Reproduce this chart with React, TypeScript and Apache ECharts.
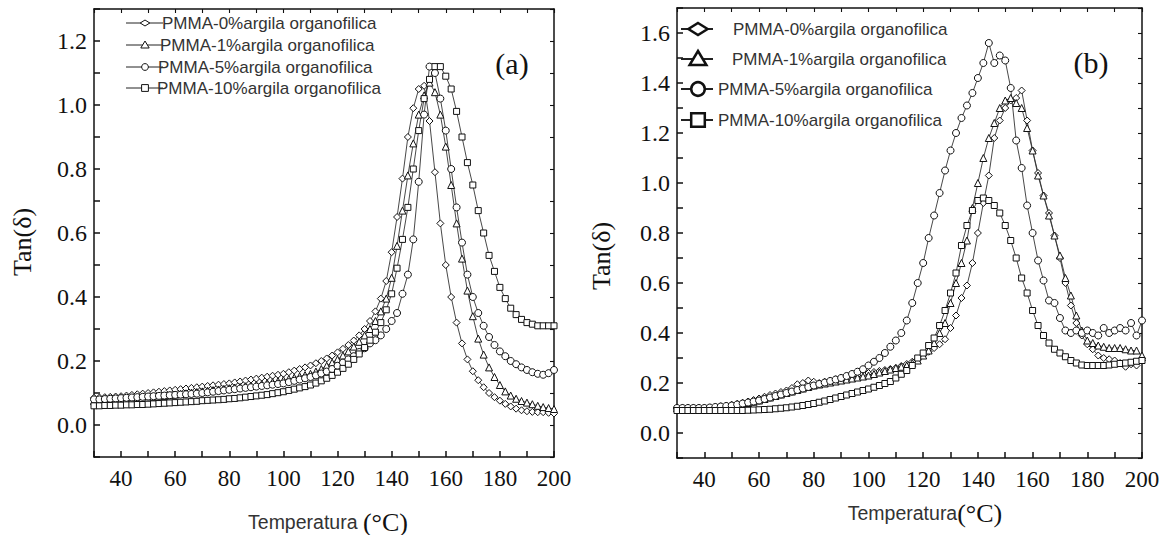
import React, { useEffect, useRef } from "react";
import * as echarts from "echarts";

// Temperature (°C) sampling shared by all curves
const TEMPS = [
  30, 32, 34, 36, 38, 40, 42, 44, 46, 48,
  50, 52, 54, 56, 58, 60, 62, 64, 66, 68,
  70, 72, 74, 76, 78, 80, 82, 84, 86, 88,
  90, 92, 94, 96, 98, 100, 102, 104, 106, 108,
  110, 112, 114, 116, 118, 120, 122, 124, 126, 128,
  130, 132, 134, 136, 138, 140, 142, 144, 146, 148,
  150, 152, 154, 156, 158, 160, 162, 164, 166, 168,
  170, 172, 174, 176, 178, 180, 182, 184, 186, 188,
  190, 192, 194, 196, 198, 200,
];

const SERIES_NAMES = [
  "PMMA-0%argila organofilica",
  "PMMA-1%argila organofilica",
  "PMMA-5%argila organofilica",
  "PMMA-10%argila organofilica",
];

// Panel (a)
const A_0 = [
  0.085, 0.086, 0.087, 0.088, 0.089, 0.09, 0.092, 0.094, 0.096, 0.098,
  0.1, 0.102, 0.104, 0.106, 0.108, 0.11, 0.112, 0.114, 0.116, 0.118,
  0.12, 0.122, 0.124, 0.126, 0.128, 0.13, 0.133, 0.136, 0.139, 0.142,
  0.145, 0.148, 0.151, 0.154, 0.157, 0.16, 0.165, 0.17, 0.175, 0.18,
  0.186, 0.193, 0.2, 0.208, 0.217, 0.227, 0.238, 0.25, 0.264, 0.28,
  0.3, 0.325, 0.355, 0.395, 0.45, 0.54, 0.65, 0.77, 0.9, 0.99,
  1.05, 1.06, 0.95, 0.79, 0.63, 0.5, 0.4, 0.32, 0.255, 0.205,
  0.168, 0.14, 0.118, 0.1, 0.087, 0.076, 0.066, 0.058, 0.051, 0.046,
  0.043, 0.041, 0.04, 0.04, 0.038, 0.036,
];
const A_1 = [
  0.075, 0.076, 0.077, 0.078, 0.079, 0.08, 0.081, 0.082, 0.083, 0.084,
  0.085, 0.087, 0.089, 0.091, 0.093, 0.095, 0.097, 0.099, 0.101, 0.103,
  0.105, 0.107, 0.109, 0.111, 0.113, 0.115, 0.117, 0.119, 0.121, 0.123,
  0.125, 0.128, 0.131, 0.134, 0.137, 0.14, 0.144, 0.148, 0.152, 0.156,
  0.16, 0.167, 0.175, 0.185, 0.195, 0.205, 0.217, 0.23, 0.245, 0.26,
  0.28, 0.3, 0.325, 0.355, 0.395, 0.46, 0.56, 0.67, 0.78, 0.88,
  0.97, 1.03, 1.07, 1.04, 0.97, 0.87, 0.75, 0.63, 0.52, 0.42,
  0.34, 0.27, 0.22, 0.18, 0.15, 0.125, 0.105, 0.092, 0.082, 0.075,
  0.07, 0.065, 0.06, 0.056, 0.053, 0.05,
];
const A_5 = [
  0.08, 0.08, 0.081, 0.082, 0.083, 0.084, 0.085, 0.086, 0.087, 0.088,
  0.089, 0.09, 0.091, 0.092, 0.093, 0.094, 0.095, 0.096, 0.097, 0.098,
  0.1, 0.102, 0.104, 0.106, 0.108, 0.11, 0.112, 0.114, 0.116, 0.118,
  0.12, 0.122, 0.124, 0.126, 0.128, 0.13, 0.134, 0.138, 0.142, 0.146,
  0.15, 0.155, 0.161, 0.167, 0.175, 0.185, 0.195, 0.205, 0.215, 0.228,
  0.24, 0.255, 0.265, 0.28, 0.3, 0.325, 0.35, 0.41, 0.47, 0.58,
  0.76, 0.97, 1.12, 1.1, 1.02, 0.92, 0.8, 0.68, 0.57, 0.47,
  0.4, 0.35, 0.31, 0.275, 0.25, 0.23, 0.215, 0.2, 0.19, 0.18,
  0.172, 0.165, 0.16, 0.157, 0.162, 0.172,
];
const A_10 = [
  0.06, 0.06, 0.061, 0.061, 0.062, 0.062, 0.063, 0.063, 0.064, 0.064,
  0.065, 0.066, 0.067, 0.068, 0.069, 0.07, 0.071, 0.072, 0.073, 0.074,
  0.076, 0.077, 0.078, 0.079, 0.08, 0.082, 0.083, 0.085, 0.087, 0.089,
  0.091, 0.093, 0.095, 0.098, 0.101, 0.104, 0.108, 0.112, 0.116, 0.12,
  0.125, 0.131, 0.138, 0.146, 0.155, 0.165, 0.177, 0.19, 0.205, 0.222,
  0.242, 0.265, 0.29, 0.32, 0.36, 0.41, 0.49, 0.58, 0.68, 0.8,
  0.92, 1.02, 1.08, 1.12, 1.12, 1.09, 1.05, 0.98, 0.9, 0.82,
  0.75, 0.67, 0.6, 0.53, 0.48, 0.43, 0.395, 0.365, 0.345, 0.33,
  0.32, 0.315, 0.31, 0.31, 0.31, 0.31,
];

// Panel (b)
const B_0 = [
  0.1, 0.1, 0.1, 0.1, 0.1, 0.1, 0.102, 0.104, 0.107, 0.11,
  0.113, 0.117, 0.121, 0.126, 0.132, 0.138, 0.145, 0.152, 0.158, 0.164,
  0.17, 0.18, 0.195, 0.2, 0.21, 0.205, 0.2, 0.205, 0.21, 0.215,
  0.22, 0.224, 0.228, 0.232, 0.236, 0.24, 0.244, 0.248, 0.252, 0.256,
  0.26, 0.268, 0.276, 0.285, 0.295, 0.31, 0.325, 0.34, 0.355, 0.375,
  0.42, 0.47, 0.54, 0.59, 0.68, 0.8, 0.92, 1.03, 1.18, 1.25,
  1.3, 1.33, 1.34, 1.37, 1.25, 1.13, 1.04, 0.95, 0.88, 0.79,
  0.7, 0.6, 0.51, 0.44, 0.39, 0.355, 0.335, 0.31, 0.3, 0.295,
  0.29, 0.28, 0.265, 0.275, 0.27, 0.29,
];
const B_1 = [
  0.1, 0.1, 0.1, 0.1, 0.1, 0.1, 0.101, 0.102, 0.104, 0.106,
  0.108, 0.112, 0.116, 0.12, 0.125, 0.13, 0.136, 0.142, 0.148, 0.154,
  0.16, 0.166, 0.172, 0.178, 0.184, 0.19, 0.194, 0.198, 0.202, 0.206,
  0.21, 0.214, 0.218, 0.222, 0.226, 0.23, 0.236, 0.242, 0.248, 0.254,
  0.26, 0.265, 0.27, 0.28, 0.29, 0.31, 0.33, 0.36, 0.4, 0.44,
  0.52, 0.6, 0.68, 0.77, 0.9, 1.0, 1.1, 1.18, 1.24, 1.3,
  1.33, 1.34, 1.32, 1.3, 1.22, 1.13, 1.03, 0.95, 0.87, 0.79,
  0.71, 0.62, 0.55, 0.47, 0.41, 0.37, 0.36, 0.35, 0.345, 0.34,
  0.34, 0.34, 0.335, 0.33, 0.33, 0.31,
];
const B_5 = [
  0.1, 0.1, 0.1, 0.1, 0.1, 0.1, 0.102, 0.104, 0.106, 0.108,
  0.11, 0.114, 0.118, 0.122, 0.126, 0.13, 0.136, 0.142, 0.148, 0.154,
  0.16, 0.166, 0.172, 0.178, 0.184, 0.19, 0.196, 0.202, 0.208, 0.214,
  0.22, 0.228, 0.236, 0.245, 0.255, 0.27, 0.285, 0.3, 0.32, 0.345,
  0.37, 0.4, 0.45, 0.52, 0.6, 0.68, 0.78, 0.87, 0.96, 1.05,
  1.13, 1.2, 1.26, 1.31, 1.36, 1.42, 1.48, 1.56, 1.48, 1.51,
  1.49, 1.38, 1.17, 1.06, 0.91, 0.8, 0.69, 0.61, 0.53, 0.52,
  0.46, 0.41, 0.4, 0.41, 0.4, 0.41, 0.4, 0.39, 0.42, 0.4,
  0.41, 0.42, 0.41, 0.44, 0.39, 0.45,
];
const B_10 = [
  0.09, 0.09, 0.09, 0.09, 0.09, 0.09, 0.09, 0.09, 0.09, 0.09,
  0.09, 0.09, 0.09, 0.091, 0.092, 0.093, 0.094, 0.095, 0.097, 0.099,
  0.101, 0.104, 0.107, 0.11, 0.114, 0.118, 0.123, 0.128, 0.134, 0.14,
  0.146, 0.152, 0.158, 0.164, 0.17, 0.176, 0.183, 0.19, 0.198, 0.206,
  0.22, 0.235, 0.25, 0.27, 0.3, 0.32, 0.35, 0.38, 0.43, 0.49,
  0.56, 0.64, 0.75, 0.83, 0.89, 0.93, 0.94, 0.93, 0.91, 0.88,
  0.83, 0.77, 0.7, 0.62, 0.56, 0.49, 0.43, 0.39, 0.36, 0.335,
  0.32, 0.305, 0.29, 0.28, 0.272, 0.27, 0.27, 0.27, 0.27, 0.272,
  0.275, 0.278, 0.28, 0.283, 0.287, 0.29,
];

// Axis settings: ticks every 10 °C / 0.1, labels on every second tick
const X_MIN = 30;
const X_MAX = 200;
const X_TICK_STEP = 10;
const Y_MIN = -0.1;
const Y_MAX_A = 1.3;
const Y_MAX_B = 1.7;
const Y_TICK_STEP = 0.1;

const SYMBOLS = ["diamond", "triangle", "circle", "rect"];
const PANEL_A = [A_0, A_1, A_5, A_10];
const PANEL_B = [B_0, B_1, B_5, B_10];

const SERIF = '"Liberation Serif", "Times New Roman", serif';
const SANS = '"Liberation Sans", Arial, sans-serif';

function marker(kind: string, cx: number, cy: number, s: number, lw: number) {
  const style = { fill: "#fff", stroke: "#111", lineWidth: lw };
  const h = s / 2;
  if (kind === "diamond") {
    return { type: "polygon", z: 100, shape: { points: [[cx, cy - h * 0.75], [cx + h * 1.2, cy], [cx, cy + h * 0.75], [cx - h * 1.2, cy]] }, style };
  }
  if (kind === "triangle") {
    return { type: "polygon", z: 100, shape: { points: [[cx, cy - h], [cx + h * 1.05, cy + h * 0.75], [cx - h * 1.05, cy + h * 0.75]] }, style };
  }
  if (kind === "circle") {
    return { type: "circle", z: 100, shape: { cx, cy, r: h * 0.85 }, style };
  }
  return { type: "rect", z: 100, shape: { x: cx - h * 0.85, y: cy - h * 0.85, width: h * 1.7, height: h * 1.7 }, style };
}

function legendItems(rows: number[], x1: number, x2: number, mx: number, textX: number[], size: number, lw: number, lineW: number) {
  const out: any[] = [];
  rows.forEach((y, i) => {
    out.push({ type: "line", z: 99, shape: { x1, y1: y, x2, y2: y }, style: { stroke: "#222", lineWidth: lineW } });
    out.push(marker(SYMBOLS[i], mx, y, size, lw));
    out.push({
      type: "text", z: 100, x: textX[i], y,
      style: { text: SERIES_NAMES[i], fontSize: 17, fontFamily: SANS, fill: "#333", verticalAlign: "middle", align: "left" },
    });
  });
  return out;
}

export default function App() {
  const ref = useRef<HTMLDivElement>(null);
  useEffect(() => {
    const chart = echarts.init(ref.current!, null, { renderer: "svg" });

    const grids = [
      { left: 94, top: 9, width: 460, height: 448, show: false },
      { left: 677, top: 8, width: 465, height: 450, show: false },
    ];

    const axisLine = { show: true, onZero: false, lineStyle: { color: "#111", width: 1.5 } };

    const xAxis = (gi: number, pos: "bottom" | "top") => ({
      type: "value", gridIndex: gi, min: X_MIN, max: X_MAX, interval: X_TICK_STEP, position: pos,
      axisLine,
      axisTick: { show: true, inside: true, length: pos === "bottom" ? 6 : 4, lineStyle: { color: "#111", width: pos === "bottom" ? 1.5 : 1.1 } },
      axisLabel: {
        show: pos === "bottom", margin: 10, fontSize: 23, fontFamily: SERIF, color: "#111",
        formatter: (v: number) => (Math.round(v) % 20 === 0 ? String(Math.round(v)) : ""),
      },
      splitLine: { show: false },
    });
    const yAxis = (gi: number, max: number, pos: "left" | "right") => ({
      type: "value", gridIndex: gi, min: Y_MIN, max, interval: Y_TICK_STEP, position: pos,
      axisLine,
      axisTick: { show: true, inside: true, length: pos === "left" ? 6 : 4, lineStyle: { color: "#111", width: pos === "left" ? 1.5 : 1.1 } },
      axisLabel: {
        show: pos === "left", margin: 7, fontSize: 24, fontFamily: SERIF, color: "#111",
        formatter: (v: number) => {
          const k = Math.round(v * 10);
          return k >= 0 && k % 2 === 0 ? (k / 10).toFixed(1) : "";
        },
      },
      splitLine: { show: false },
    });

    const series: any[] = [];
    [PANEL_A, PANEL_B].forEach((panel, pi) => {
      panel.forEach((vals, si) => {
        series.push({
          type: "line",
          name: SERIES_NAMES[si],
          xAxisIndex: pi,
          yAxisIndex: pi,
          data: TEMPS.map((t, i) => [t, vals[i]]),
          symbol: SYMBOLS[si],
          symbolSize: si === 3 ? 6 : 7,
          showAllSymbol: true,
          lineStyle: { color: "#333", width: 0.9 },
          itemStyle: { color: "#fff", borderColor: "#111", borderWidth: 1 },
          emphasis: { disabled: true },
        });
      });
    });

    const xName = (x: number, y: number, sep: string) => ({
      type: "text", z: 100, x, y,
      style: {
        text: `{a|Temperatura${sep}}{b|(°C)}`, align: "center", verticalAlign: "middle",
        rich: { a: { fontSize: 19.5, fontFamily: SANS, fill: "#333", color: "#333" }, b: { fontSize: 26, fontFamily: SERIF, fill: "#111", color: "#111" } },
      },
    });

    const graphic: any[] = [
      ...legendItems([23, 45, 67, 88], 126, 163, 145, [162, 160, 158, 157], 8, 1, 1),
      ...legendItems([29, 59, 89, 120], 681, 713, 698, [733, 732, 718, 718], 16, 2.5, 2),
      { type: "text", z: 100, x: 512, y: 63, style: { text: "(a)", fontSize: 30, fontFamily: SERIF, fill: "#111", align: "center", verticalAlign: "middle" } },
      { type: "text", z: 100, x: 1091, y: 62, style: { text: "(b)", fontSize: 30, fontFamily: SERIF, fill: "#111", align: "center", verticalAlign: "middle" } },
      { type: "text", z: 100, x: 22, y: 242, rotation: Math.PI / 2, style: { text: "Tan(δ)", fontSize: 26, fontFamily: SERIF, fill: "#111", align: "center", verticalAlign: "middle" } },
      { type: "text", z: 100, x: 601, y: 256, rotation: Math.PI / 2, style: { text: "Tan(δ)", fontSize: 26, fontFamily: SERIF, fill: "#111", align: "center", verticalAlign: "middle" } },
      xName(328, 522, " "),
      xName(925, 513, ""),
    ];

    chart.setOption({
      animation: false,
      backgroundColor: "#fff",
      grid: grids,
      xAxis: [xAxis(0, "bottom"), xAxis(1, "bottom"), xAxis(0, "top"), xAxis(1, "top")],
      yAxis: [yAxis(0, Y_MAX_A, "left"), yAxis(1, Y_MAX_B, "left"), yAxis(0, Y_MAX_A, "right"), yAxis(1, Y_MAX_B, "right")],
      series,
      graphic,
    });
    return () => chart.dispose();
  }, []);
  return (
    <div
      ref={ref}
      style={{ position: "fixed", left: 0, top: 0, width: 1168, height: 535, background: "#fff" }}
    />
  );
}
